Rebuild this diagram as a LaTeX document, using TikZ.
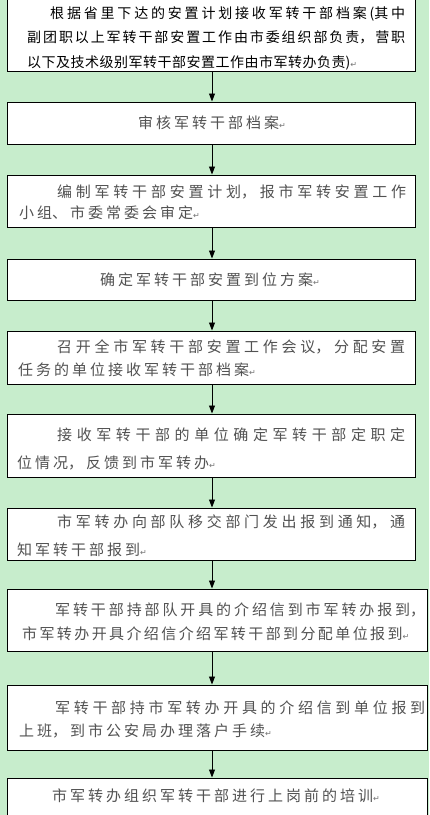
\documentclass[tikz,border=0pt]{standalone}
\usepackage{fontspec}
\usetikzlibrary{arrows.meta}
\newfontfamily\cjk{Noto Sans CJK SC}
\newfontfamily\symfont{DejaVu Sans}
\XeTeXlinebreaklocale "zh"
\XeTeXlinebreakskip=3pt plus 8pt minus 0.5pt
\definecolor{bgc}{RGB}{199,237,204}
\newcommand\parmk{{\symfont\fontsize{8pt}{8pt}\selectfont\color{black!55}↵}}
\tikzset{
  boxst/.style={draw=black, fill=white, line width=1pt, inner sep=0pt},
  narrowbox/.style={boxst, minimum width=408pt},
  widebox/.style={boxst, minimum width=420pt},
  txt/.style={inner sep=0pt, anchor=west, text=black!68, font=\cjk\fontsize{15pt}{24pt}\selectfont},
  single/.style={txt, text width=370pt, align=left},
  multi/.style={txt, align=justify},
  arr/.style={line width=0.9pt, -{Triangle[width=6pt,length=8pt]}}
}
\begin{document}
\begin{tikzpicture}[x=1pt,y=-1pt]
\useasboundingbox (0,0) rectangle (429,815);
\fill[bgc] (0,0) rectangle (429,815);
\coordinate (ax) at (212,0);
% boxes
\node[narrowbox, minimum height=74pt] (b1) at (211,34) {};
\node[narrowbox, minimum height=42pt] (b2) at (211,123) {};
\node[narrowbox, minimum height=52pt] (b3) at (211,201) {};
\node[narrowbox, minimum height=41pt] (b4) at (211,279.5) {};
\node[narrowbox, minimum height=53pt] (b5) at (211,357.5) {};
\node[narrowbox, minimum height=63pt] (b6) at (211,445.5) {};
\node[narrowbox, minimum height=52pt] (b7) at (211,534) {};
\node[widebox, minimum height=62pt] (b8) at (217,620) {};
\node[widebox, minimum height=65pt] (b9) at (217,717.5) {};
\node[widebox, minimum height=50pt] (b10) at (217,803) {};
% texts
\node[multi, text=black, text width=378pt, font=\cjk\fontsize{14pt}{24.5pt}\selectfont] (t1) at (27,38)
 {\XeTeXlinebreakskip=0.5pt plus 8pt minus 0.5pt\hspace*{23pt}根据省里下达的安置计划接收军转干部档案(其中\linebreak 副团职以上军转干部安置工作由市委组织部负责，营职\linebreak 以下及技术级别军转干部安置工作由市军转办负责)\parmk};
\node[single] (t2) at (138,123) {审核军转干部档案\parmk};
\node[multi, text width=387pt, font=\cjk\fontsize{15pt}{21pt}\selectfont] (t3) at (19,202.5)
 {\hspace*{38pt}编制军转干部安置计划，报市军转安置工作\linebreak 小组、市委常委会审定\parmk};
\node[single] (t4) at (100,280) {确定军转干部安置到位方案\parmk};
\node[multi, text width=387pt, font=\cjk\fontsize{15pt}{23pt}\selectfont] (t5) at (18,358.5)
 {\hspace*{39pt}召开全市军转干部安置工作会议，分配安置\linebreak 任务的单位接收军转干部档案\parmk};
\node[multi, text width=388pt, font=\cjk\fontsize{15pt}{28pt}\selectfont] (t6) at (17,449)
 {\hspace*{40pt}接收军转干部的单位确定军转干部定职定\linebreak 位情况，反馈到市军转办\parmk};
\node[multi, text width=388pt, font=\cjk\fontsize{15pt}{28pt}\selectfont] (t7) at (17,536)
 {\hspace*{40pt}市军转办向部队移交部门发出报到通知，通\linebreak 知军转干部报到\parmk};
\node[multi, text width=403pt, font=\cjk\fontsize{15pt}{24pt}\selectfont] (t8) at (22,622)
 {\XeTeXlinebreakskip=2.4pt plus 8pt minus 0.5pt\hspace*{33pt}军转干部持部队开具的介绍信到市军转办报到，\linebreak 市军转办开具介绍信介绍军转干部到分配单位报到\parmk};
\node[multi, text width=406pt, font=\cjk\fontsize{15pt}{23pt}\selectfont] (t9) at (19,719)
 {\hspace*{36pt}军转干部持市军转办开具的介绍信到单位报到\linebreak 上班，到市公安局办理落户手续\parmk};
\node[single] (t10) at (52,796) {市军转办组织军转干部进行上岗前的培训\parmk};
% arrows
\draw[arr] (b1.south -| ax) -- (b2.north -| ax);
\draw[arr] (b2.south -| ax) -- (b3.north -| ax);
\draw[arr] (b3.south -| ax) -- (b4.north -| ax);
\draw[arr] (b4.south -| ax) -- (b5.north -| ax);
\draw[arr] (b5.south -| ax) -- (b6.north -| ax);
\draw[arr] (b6.south -| ax) -- (b7.north -| ax);
\draw[arr] (b7.south -| ax) -- (b8.north -| ax);
\draw[arr] (b8.south -| ax) -- (b9.north -| ax);
\draw[arr] (b9.south -| ax) -- (b10.north -| ax);
\end{tikzpicture}
\end{document}
